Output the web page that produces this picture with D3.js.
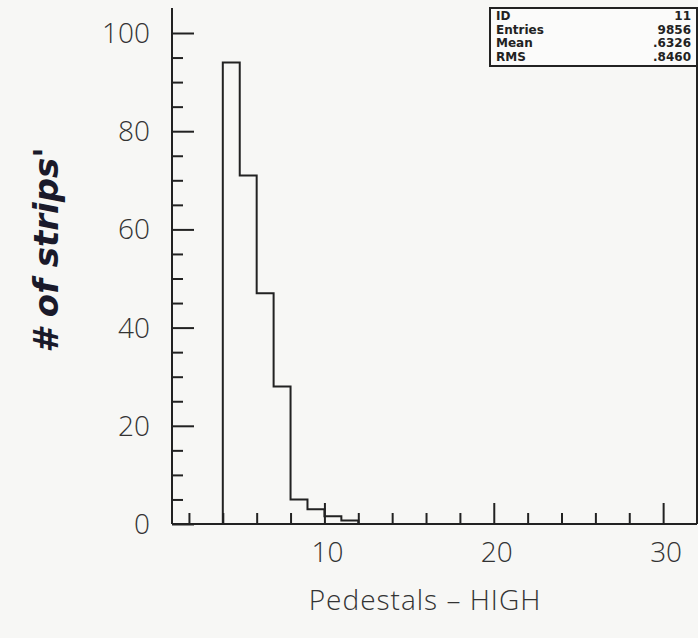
<!DOCTYPE html>
<html>
<head>
<meta charset="utf-8">
<script src="https://cdn.jsdelivr.net/npm/d3@7"></script>
<style>
  body { margin: 0; background: #f7f7f5; }
  svg { display: block; }
</style>
</head>
<body>
<div id="chart"></div>
<script>
// Pedestals - HIGH histogram (PAW style, id 11)

// bin lower edges (width 1) and contents
const binEdges = [4, 5, 6, 7, 8, 9, 10, 11];
const binValues = [94, 71, 47, 28, 5, 3, 1.6, 0.7];

const xMajorTicks = [10, 20, 30];
const xMinorTicks = [2, 4, 6, 8, 12, 14, 16, 18, 22, 24, 26, 28];
const yMajorTicks = [0, 20, 40, 60, 80, 100];
const yMinorTicks = [5, 10, 15, 25, 30, 35, 45, 50, 55, 65, 70, 75, 85, 90, 95];

const statLabels = ['ID', 'Entries', 'Mean', 'RMS'];
const statValues = ['11', '9856', '.6326', '.8460'];

const W = 698, H = 638;
const frame = { left: 172, right: 697, top: 8, bottom: 524 };
const ink = '#222';

const svg = d3.select('#chart').append('svg')
    .attr('width', W)
    .attr('height', H);

const x = d3.scaleLinear().domain([1, 32]).range([frame.left, frame.right]);
const y = d3.scaleLinear().domain([0, 100]).range([frame.bottom, 33]);

// frame lines
svg.append('line')
    .attr('x1', frame.left).attr('x2', frame.left)
    .attr('y1', frame.top).attr('y2', frame.bottom)
    .attr('stroke', ink).attr('stroke-width', 2);
svg.append('line')
    .attr('x1', frame.left).attr('x2', frame.right)
    .attr('y1', frame.bottom).attr('y2', frame.bottom)
    .attr('stroke', ink).attr('stroke-width', 2);
svg.append('line')
    .attr('x1', frame.right).attr('x2', frame.right)
    .attr('y1', frame.top).attr('y2', frame.bottom)
    .attr('stroke', ink).attr('stroke-width', 2);

// x axis ticks (pointing up, inside frame)
const xAxisMajor = d3.axisTop(x).tickValues(xMajorTicks).tickSize(21).tickFormat('');
const xAxisMinor = d3.axisTop(x).tickValues(xMinorTicks).tickSize(11).tickFormat('');
[xAxisMajor, xAxisMinor].forEach(ax => {
    const g = svg.append('g')
        .attr('transform', `translate(0,${frame.bottom})`)
        .call(ax);
    g.select('.domain').remove();
    g.selectAll('line').attr('stroke', ink).attr('stroke-width', 2);
});

// y axis ticks (pointing right, inside frame)
const yAxisMajor = d3.axisRight(y).tickValues(yMajorTicks).tickSize(22).tickFormat('');
const yAxisMinor = d3.axisRight(y).tickValues(yMinorTicks).tickSize(11).tickFormat('');
[yAxisMajor, yAxisMinor].forEach(ax => {
    const g = svg.append('g')
        .attr('transform', `translate(${frame.left},0)`)
        .call(ax);
    g.select('.domain').remove();
    g.selectAll('line').attr('stroke', ink).attr('stroke-width', 2);
});

// tick labels
svg.append('g').selectAll('text')
    .data(xMajorTicks)
    .enter().append('text')
    .attr('x', d => x(d) + 3)
    .attr('y', 562)
    .attr('text-anchor', 'middle')
    .style('font-family', '"Open Sans", "Liberation Sans", sans-serif')
    .style('font-weight', 300)
    .style('font-size', '28px')
    .attr('fill', '#333')
    .text(d => d);

svg.append('g').selectAll('text')
    .data(yMajorTicks)
    .enter().append('text')
    .attr('x', 150)
    .attr('y', d => y(d) + 10)
    .attr('text-anchor', 'end')
    .style('font-family', '"Open Sans", "Liberation Sans", sans-serif')
    .style('font-weight', 300)
    .style('font-size', '28px')
    .attr('fill', '#333')
    .text(d => d);

// histogram outline (step)
const pts = [];
binEdges.forEach((e, i) => {
    pts.push([x(e), y(binValues[i])]);
    pts.push([x(e + 1), y(binValues[i])]);
});
const first = binEdges[0], last = binEdges[binEdges.length - 1] + 1;
pts.unshift([x(first), y(0)]);
pts.push([x(last), y(0)]);

svg.append('path')
    .attr('d', d3.line()(pts))
    .attr('fill', 'none')
    .attr('stroke', ink)
    .attr('stroke-width', 2);

// stats box
const box = { left: 490, top: 8, right: frame.right, bottom: 66 };
svg.append('rect')
    .attr('x', box.left).attr('y', box.top)
    .attr('width', box.right - box.left).attr('height', box.bottom - box.top)
    .attr('fill', '#fbfbfa')
    .attr('stroke', ink).attr('stroke-width', 2);

const rowY = d3.scalePoint().domain(statLabels).range([20, 61]);
svg.append('g').selectAll('text')
    .data(statLabels)
    .enter().append('text')
    .attr('x', box.left + 6)
    .attr('y', d => rowY(d))
    .style('font-family', '"DejaVu Sans", sans-serif')
    .style('font-weight', 'bold')
    .style('font-size', '12px')
    .attr('fill', ink)
    .text(d => d);
svg.append('g').selectAll('text')
    .data(statValues)
    .enter().append('text')
    .attr('x', box.right - 6)
    .attr('y', (d, i) => rowY(statLabels[i]))
    .attr('text-anchor', 'end')
    .style('font-family', '"DejaVu Sans", sans-serif')
    .style('font-weight', 'bold')
    .style('font-size', '12px')
    .attr('fill', ink)
    .text(d => d);

// axis titles
svg.append('text')
    .attr('x', 425)
    .attr('y', 610)
    .attr('text-anchor', 'middle')
    .style('font-family', '"Open Sans", "Liberation Sans", sans-serif')
    .style('font-weight', 300)
    .style('font-size', '28px')
    .style('letter-spacing', '1px')
    .attr('fill', '#333')
    .text('Pedestals \u2013 HIGH');

svg.append('text')
    .attr('transform', 'translate(58,250) rotate(-90)')
    .attr('text-anchor', 'middle')
    .style('font-family', '"DejaVu Sans", sans-serif')
    .style('font-style', 'italic')
    .style('font-weight', 'bold')
    .style('font-size', '34px')
    .attr('fill', '#1a1a2a')
    .text("# of strips'");
</script>
</body>
</html>
